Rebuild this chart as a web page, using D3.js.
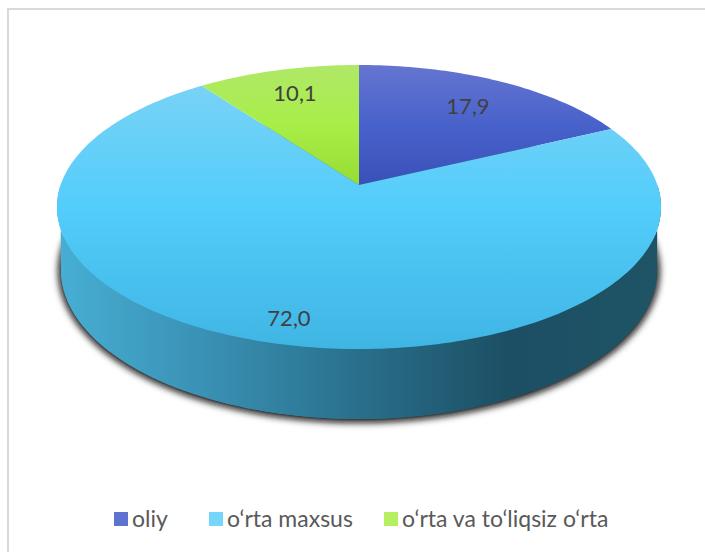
<!DOCTYPE html>
<html>
<head>
<meta charset="utf-8">
<script src="https://cdn.jsdelivr.net/npm/d3@7"></script>
<style>
  html, body { margin: 0; padding: 0; background: #fff; }
  svg { display: block; }
  text { font-family: Lato, "Open Sans", sans-serif; }
</style>
</head>
<body>
<div id="chart"></div>
<script>
const categories = ['oliy', 'o‘rta maxsus', 'o‘rta va to‘liqsiz o‘rta']
const values = [17.9, 72.0, 10.1]
const valueLabels = ['17,9', '72,0', '10,1']

const w = 705
const h = 552

// top face is a circle seen in perspective, so the centre sits above the ellipse middle
const cx = 359
const cy = 185
const persp = 0.155
const scaleX = 298.4
const scaleY = 138.6

function project(angle, r) {
  const u = Math.sin(angle) * r
  const v = Math.cos(angle) * r
  const d = 1 + persp * v
  return [cx + scaleX * u / d, cy - scaleY * v / d]
}

const svg = d3.select('#chart').append('svg')
  .attr('width', w)
  .attr('height', h)

const defs = svg.append('defs')

function vGradient(id, y1, y2, stops) {
  const g = defs.append('linearGradient')
    .attr('id', id)
    .attr('gradientUnits', 'userSpaceOnUse')
    .attr('x1', 0).attr('x2', 0)
    .attr('y1', y1).attr('y2', y2)
  stops.forEach(s => g.append('stop').attr('offset', s[0]).attr('stop-color', s[1]))
}

vGradient('top0', 65, 185, [[0, '#6575d0'], [0.5, '#4862cb'], [1, '#3a50b8']])
vGradient('top1', 65, 349, [[0, '#7fd3f4'], [0.5, '#53cdfb'], [1, '#3fb5e4']])
vGradient('top2', 65, 185, [[0, '#b0e868'], [0.5, '#a8ee48'], [1, '#96dc32']])

// legend swatches, 14px tall starting at y 512
vGradient('leg0', 512, 526, [[0, '#5f72cf'], [1, '#4560ca']])
vGradient('leg1', 512, 526, [[0, '#74d6fb'], [1, '#53cdfb']])
vGradient('leg2', 512, 526, [[0, '#b5f060'], [1, '#a5ea45']])

const wallGrad = defs.append('linearGradient')
  .attr('id', 'wall')
  .attr('gradientUnits', 'userSpaceOnUse')
  .attr('x1', 60).attr('x2', 658)
  .attr('y1', 0).attr('y2', 0)
const wallStops = [[0, '#47aed3'], [0.25, '#3990b3'], [0.5, '#296f8c'], [0.75, '#1c4f63'], [1, '#1f5366']]
wallStops.forEach(s => wallGrad.append('stop').attr('offset', s[0]).attr('stop-color', s[1]))

defs.append('filter')
  .attr('id', 'blur')
  .attr('x', '-10%').attr('y', '-10%')
  .attr('width', '120%').attr('height', '120%')
  .append('feGaussianBlur')
  .attr('stdDeviation', 3.5)

// chart frame, only top and left edges show in the crop
const frame = svg.append('g').attr('stroke', '#d9d9d9').attr('stroke-width', 2)
frame.append('line').attr('x1', 8).attr('x2', 8).attr('y1', 8).attr('y2', h)
frame.append('line').attr('x1', 7).attr('x2', w).attr('y1', 9).attr('y2', 9)

// lower rim of the cylinder
const rimX = d3.scaleLinear().domain([-1, 1]).range([61, 657])
const rimY = d3.scaleLinear().domain([-1, 1]).range([121, 419])
const steps = d3.range(0, 361, 2).map(d => d * Math.PI / 180)
const lineGen = d3.line()

const rimPts = steps.map(a => [rimX(Math.sin(a)), rimY(-Math.cos(a))])

// soft shadow, only the lower part shows round the wall
svg.append('path')
  .attr('d', lineGen(rimPts) + 'Z')
  .attr('transform', 'translate(0,1)')
  .attr('fill', '#111')
  .attr('stroke', '#111')
  .attr('stroke-width', 5)
  .attr('filter', 'url(#blur)')

// wall: top edge joined to the rim so the sides are closed
const wallPts = d3.range(90, 271, 2).map(d => d * Math.PI / 180)
const wallTop = wallPts.map(a => project(a, 1))
const wallBottom = wallPts.map(a => [rimX(Math.sin(a)), rimY(-Math.cos(a))]).reverse()
svg.append('path')
  .attr('d', lineGen(rimPts) + 'Z')
  .attr('fill', 'url(#wall)')
svg.append('path')
  .attr('d', lineGen(wallTop.concat(wallBottom)) + 'Z')
  .attr('fill', 'url(#wall)')

// slices start at 12 o'clock and go clockwise
const pie = d3.pie().sort(null).value(d => d)
const arcs = pie(values)

svg.append('g').selectAll('path')
  .data(arcs)
  .enter()
  .append('path')
  .attr('d', d => {
    const n = Math.ceil((d.endAngle - d.startAngle) / 0.02)
    const pts = d3.range(n + 1).map(i => project(d.startAngle + (d.endAngle - d.startAngle) * i / n, 1))
    return lineGen([[cx, cy]].concat(pts)) + 'Z'
  })
  .attr('fill', (d, i) => `url(#top${i})`)

// value labels
const labelPos = [[468, 106], [289, 318], [295, 93]]
svg.selectAll('.val')
  .data(valueLabels)
  .enter()
  .append('text')
  .attr('class', 'val')
  .attr('x', (d, i) => labelPos[i][0])
  .attr('y', (d, i) => labelPos[i][1])
  .attr('dy', '0.35em')
  .attr('text-anchor', 'middle')
  .attr('font-size', 22)
  .attr('fill', '#404040')
  .text(d => d)

// legend
const legendX = [114, 209, 384]
const legend = svg.selectAll('.leg')
  .data(categories)
  .enter()
  .append('g')
  .attr('class', 'leg')
  .attr('transform', (d, i) => `translate(${legendX[i]},512)`)
legend.append('rect')
  .attr('width', 14)
  .attr('height', 14)
  .attr('fill', (d, i) => `url(#leg${i})`)
legend.append('text')
  .attr('x', 18)
  .attr('y', 7)
  .attr('dy', '0.35em')
  .attr('font-size', 23)
  .attr('fill', '#595959')
  .text(d => d)
</script>
</body>
</html>
